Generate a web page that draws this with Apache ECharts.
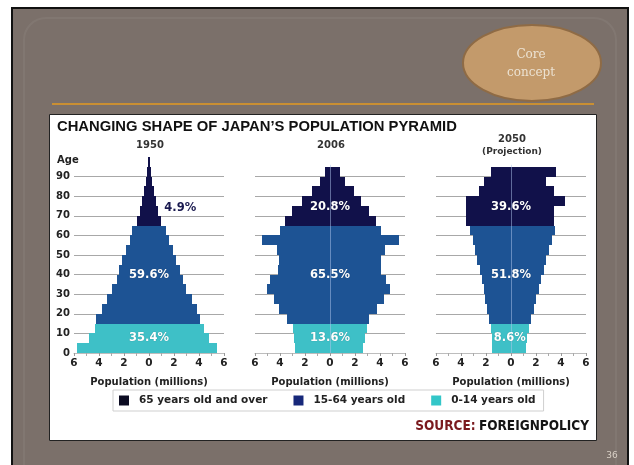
<!DOCTYPE html>
<html>
<head>
<meta charset="utf-8">
<script src="https://cdn.jsdelivr.net/npm/echarts@6/dist/echarts.min.js"></script>
<style>
  html, body { margin: 0; padding: 0; background: #ffffff; }
  #chart { width: 634px; height: 465px; }
</style>
</head>
<body>
<div id="chart"></div>
<script>
// Five-year age groups (start of each band)
const ageStarts = [0, 5, 10, 15, 20, 25, 30, 35, 40, 45, 50, 55, 60, 65, 70, 75, 80, 85, 90, 95];

// Population per band, millions (left side = male, right side = female)
const male1950   = [5.8, 4.8, 4.3, 4.27, 3.8, 3.33, 2.93, 2.6, 2.4, 2.13, 1.87, 1.55, 1.33, 0.93, 0.72, 0.53, 0.37, 0.24, 0.13, 0.05];
const female1950 = [5.4, 4.8, 4.4, 4.08, 3.81, 3.41, 2.99, 2.72, 2.45, 2.19, 1.92, 1.6, 1.39, 0.93, 0.72, 0.59, 0.37, 0.24, 0.13, 0.05];

const male2006   = [2.8, 2.9, 3.0, 3.45, 4.1, 4.5, 5.05, 4.8, 4.15, 4.1, 4.25, 5.47, 4.0, 3.6, 3.07, 2.27, 1.47, 0.8, 0.4, 0];
const female2006 = [2.67, 2.8, 2.95, 3.1, 3.75, 4.3, 4.8, 4.5, 4.1, 4.1, 4.4, 5.5, 4.1, 3.68, 3.1, 2.45, 1.9, 1.2, 0.8, 0];

const male2050   = [1.5, 1.55, 1.6, 1.8, 1.9, 2.05, 2.2, 2.35, 2.5, 2.7, 2.9, 3.05, 3.25, 3.6, 3.6, 3.6, 2.6, 2.15, 1.6, 0];
const female2050 = [1.2, 1.3, 1.4, 1.6, 1.8, 2.0, 2.2, 2.4, 2.6, 2.8, 3.0, 3.25, 3.5, 3.45, 3.45, 4.3, 3.45, 2.8, 3.6, 0];

// Share of total population per age group: [65+, 15-64, 0-14]
const shares1950 = ['4.9%', '59.6%', '35.4%'];
const shares2006 = ['20.8%', '65.5%', '13.6%'];
const shares2050 = ['39.6%', '51.8%', '8.6%'];

const panelTitles = ['1950', '2006', '2050'];
const xTicks = [-6, -4, -2, 0, 2, 4, 6];
const groupNames = ['65 years old and over', '15-64 years old', '0-14 years old'];

const SANS = 'DejaVu Sans';
const colors = { old: '#11114a', work: '#1d5394', young: '#3ec0c7' };
const legendColors = ['#0b0b22', '#17287a', '#33c6c8'];

const panels = [
  { male: male1950, female: female1950, shares: shares1950 },
  { male: male2006, female: female2006, shares: shares2006 },
  { male: male2050, female: female2050, shares: shares2050 }
];
const gridLefts = [74, 255, 436];

function renderBand(params, api) {
  const a0 = api.value(0);
  const p0 = api.coord([-api.value(1), a0 + 5]);
  const p1 = api.coord([api.value(2), a0]);
  const x0 = Math.round(p0[0]), x1 = Math.round(p1[0]);
  const y0 = Math.round(p0[1]), y1 = Math.round(p1[1]);
  return {
    type: 'rect',
    shape: { x: x0, y: y0, width: Math.max(1, x1 - x0), height: y1 - y0 },
    style: { fill: api.visual('color') }
  };
}

function bandSeries(name, color, gi, panel, lo, hi) {
  const data = [];
  ageStarts.forEach((a, i) => {
    if (a >= lo && a <= hi && (panel.male[i] > 0 || panel.female[i] > 0)) {
      data.push([a, panel.male[i], panel.female[i]]);
    }
  });
  return {
    type: 'custom', name, xAxisIndex: gi, yAxisIndex: gi,
    itemStyle: { color }, renderItem: renderBand, data, silent: true, z: 2
  };
}

// where each share label sits, in data units [population, age]
const labelAnchors = [
  [[2.5, 74], [0, 40], [0, 7.6]],
  [[0, 74.5], [0, 40], [0, 7.6]],
  [[0, 74.5], [0, 40], [-0.1, 7.6]]
];

const series = [];
panels.forEach((p, gi) => {
  series.push(bandSeries(groupNames[2], colors.young, gi, p, 0, 10));
  series.push(bandSeries(groupNames[1], colors.work, gi, p, 15, 60));
  const top = ageStarts.reduce((m, a, i) => (p.male[i] > 0 || p.female[i] > 0) ? a + 5 : m, 0);
  const s = bandSeries(groupNames[0], colors.old, gi, p, 65, 95);
  s.markLine = {
    silent: true, symbol: 'none', z: 5,
    label: { show: false },
    lineStyle: { color: 'rgba(175,198,235,0.5)', width: 1, type: 'solid' },
    data: [[{ coord: [0, 0] }, { coord: [0, top + 1] }]]
  };
  series.push(s);
  series.push({
    type: 'custom', xAxisIndex: gi, yAxisIndex: gi, silent: true, z: 6,
    data: labelAnchors[gi],
    renderItem: (params, api) => {
      const pt = api.coord([api.value(0), api.value(1)]);
      const outside = gi === 0 && params.dataIndex === 0;
      return {
        type: 'text', x: pt[0], y: pt[1],
        style: {
          text: p.shares[params.dataIndex],
          fontFamily: SANS, fontWeight: 'bold', fontSize: 11.5,
          fill: outside ? '#1a1a50' : '#ffffff',
          align: 'center', verticalAlign: 'middle',
          textShadowColor: outside ? 'transparent' : 'rgba(0,0,0,0.35)',
          textShadowBlur: 1
        }
      };
    }
  });
});

const grids = gridLefts.map(l => ({ left: l, width: 150, top: 157, height: 196 }));

const xAxes = gridLefts.map((l, gi) => ({
  type: 'value', gridIndex: gi, min: xTicks[0], max: xTicks[xTicks.length - 1], interval: 2,
  axisLine: { show: true, lineStyle: { color: '#bdbdbd', width: 1 } },
  axisTick: { show: true, length: 3, lineStyle: { color: '#999' } },
  minorTick: { show: true, splitNumber: 2, length: 3, lineStyle: { color: '#aaa' } },
  splitLine: { show: false },
  axisLabel: {
    formatter: v => String(Math.abs(v)), margin: 5,
    fontFamily: SANS, fontWeight: 'bold', fontSize: 10.5, color: '#222'
  },
  name: 'Population (millions)', nameLocation: 'middle', nameGap: 24,
  nameTextStyle: { fontFamily: SANS, fontWeight: 'bold', fontSize: 10, color: '#222' }
}));

const yAxes = gridLefts.map((l, gi) => ({
  type: 'value', gridIndex: gi, min: 0, max: 100, interval: 10,
  axisLine: { show: false }, axisTick: { show: false },
  axisLabel: {
    show: gi === 0, showMaxLabel: false, margin: 4,
    fontFamily: SANS, fontWeight: 'bold', fontSize: 10, color: '#222'
  },
  splitLine: { show: true, showMaxLine: false, lineStyle: { color: '#a8a8a8', width: 1 } }
}));

const txt = (x, y, text, style) => ({
  type: 'text', x, y, z: 50, silent: true,
  style: Object.assign({ text, fontFamily: SANS, fontWeight: 'bold', fontSize: 10, fill: '#333', align: 'center', verticalAlign: 'middle' }, style)
});

const graphic = [
  // slide frame and background
  { type: 'rect', z: -100, silent: true, shape: { x: 12, y: 8, width: 616, height: 470 }, style: { fill: '#7b706a', stroke: '#111', lineWidth: 2 } },
  { type: 'rect', z: -99, silent: true, shape: { x: 24, y: 18, width: 592, height: 470, r: 22 }, style: { fill: 'none', stroke: 'rgba(255,255,255,0.05)', lineWidth: 2 } },
  // "Core concept" badge
  { type: 'ellipse', z: -98, silent: true, shape: { cx: 532, cy: 63, rx: 69, ry: 38 }, style: { fill: '#c39a6b', stroke: '#8f6b45', lineWidth: 2 } },
  txt(531, 64, 'Core\nconcept', { fontFamily: 'DejaVu Serif', fontWeight: 'normal', fontSize: 12, fill: '#ece2d2', lineHeight: 18 }),
  // divider
  { type: 'line', z: -98, silent: true, shape: { x1: 52, y1: 104, x2: 594, y2: 104 }, style: { stroke: '#e39a22', lineWidth: 1.5 } },
  // white chart panel
  { type: 'rect', z: -97, silent: true, shape: { x: 49.5, y: 114.5, width: 547, height: 326 }, style: { fill: '#ffffff', stroke: '#222', lineWidth: 1 } },
  // titles
  txt(57, 127, 'CHANGING SHAPE OF JAPAN\u2019S POPULATION PYRAMID', { fontFamily: 'Liberation Sans', fontSize: 14.8, fill: '#111', align: 'left' }),
  txt(150, 145, panelTitles[0]),
  txt(331, 145, panelTitles[1]),
  txt(512, 139, panelTitles[2]),
  txt(512, 152, '(Projection)', { fontSize: 9 }),
  txt(57, 160, 'Age', { align: 'left', fill: '#222' }),
  // source line
  {
    type: 'text', x: 589, y: 426, z: 50, silent: true,
    style: {
      text: '{a|SOURCE:} {b|FOREIGNPOLICY}', align: 'right', verticalAlign: 'middle',
      rich: {
        a: { fontFamily: 'DejaVu Sans Condensed', fontWeight: 'bold', fontSize: 13.5, fill: '#7a1a1e' },
        b: { fontFamily: 'DejaVu Sans Condensed', fontWeight: 'bold', fontSize: 13.5, fill: '#141414' }
      }
    }
  },
  // slide number
  txt(612, 456, '36', { fontWeight: 'normal', fontSize: 9, fill: '#d9d0c6' })
];

const chart = echarts.init(document.getElementById('chart'), null, { renderer: 'canvas' });
chart.setOption({
  backgroundColor: '#ffffff',
  animation: false,
  grid: grids,
  xAxis: xAxes,
  yAxis: yAxes,
  legend: {
    left: 113, top: 390, orient: 'horizontal',
    itemWidth: 10, itemHeight: 10, itemGap: 26,
    padding: [5, 8, 5, 6],
    borderColor: '#cfcfcf', borderWidth: 1, backgroundColor: '#fff',
    selectedMode: false,
    textStyle: { fontFamily: SANS, fontSize: 10.5, fontWeight: 'bold', color: '#222', padding: [0, 0, 0, 5] },
    data: groupNames.map((n, i) => ({ name: n, icon: 'rect', itemStyle: { color: legendColors[i] } }))
  },
  graphic,
  series
});
</script>
</body>
</html>
